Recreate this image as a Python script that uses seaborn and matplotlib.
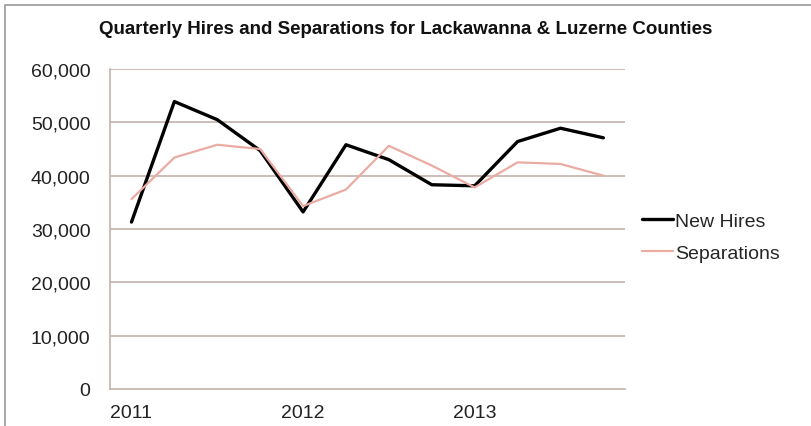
import numpy as np
import pandas as pd
import matplotlib
matplotlib.use("Agg")
import matplotlib.pyplot as plt
import seaborn as sns
from matplotlib.patches import Rectangle

# Quarterly data, 2011 Q1 .. 2013 Q4
quarters = list(range(12))
new_hires = [31300, 53900, 50500, 44700, 33200, 45800, 43000, 38300, 38100, 46400, 48900, 47100]
separations = [35600, 43400, 45800, 45000, 34300, 37400, 45600, 41900, 37800, 42500, 42200, 40000]
year_labels = ["2011", "2012", "2013"]
year_pos = [0, 4, 8]
y_ticks = [0, 10000, 20000, 30000, 40000, 50000, 60000]

df = pd.DataFrame({"quarter": quarters, "New Hires": new_hires, "Separations": separations})

sns.set_style("white")
plt.rcParams["font.family"] = ["Liberation Sans", "DejaVu Sans"]

fig = plt.figure(figsize=(8.12, 4.27), dpi=100)
ax = fig.add_axes([0.1355, 0.0867, 0.634, 0.7493])

grid_c = "#c4b1ad"
for v in y_ticks[1:]:
    ax.axhline(v, color=grid_c, lw=1.2, zorder=0)

sns.lineplot(data=df, x="quarter", y="New Hires", ax=ax, color="black", lw=2.4, label="New Hires")
sns.lineplot(data=df, x="quarter", y="Separations", ax=ax, color="#eaaba3", lw=1.6, label="Separations")

ax.set_xlim(-0.5, 11.5)
ax.set_ylim(0, 60000)
ax.set_yticks(y_ticks)
ax.set_yticklabels([f"{v:,}" for v in y_ticks], fontsize=14, color="#222222")
ax.set_xticks(year_pos)
ax.set_xticklabels(year_labels, fontsize=14, color="#222222")
ax.set_xticks(np.arange(-0.5, 12, 1), minor=True)
ax.tick_params(axis="x", which="major", length=0, pad=11)
ax.tick_params(axis="x", which="minor", length=5, color=grid_c, direction="out")
ax.tick_params(axis="y", length=5, color=grid_c, direction="out", pad=9)
ax.set_xlabel("")
ax.set_ylabel("")

for s in ["top", "right"]:
    ax.spines[s].set_visible(False)
for s in ["left", "bottom"]:
    ax.spines[s].set_color(grid_c)
    ax.spines[s].set_linewidth(1.2)

leg = ax.legend(loc="center left", bbox_to_anchor=(1.0, 0.475), frameon=False,
                fontsize=14, handlelength=1.6, handletextpad=0.1, labelspacing=0.75)

fig.text(0.5, 0.93, "Quarterly Hires and Separations for Lackawanna & Luzerne Counties",
         ha="center", va="center", fontsize=13.5, fontweight="bold", color="#111111")

fig.patches.append(Rectangle((0.006, -0.01), 1.2, 0.996, transform=fig.transFigure,
                             fill=False, edgecolor="#999999", lw=1.2))

fig.savefig("out.png", dpi=100)
